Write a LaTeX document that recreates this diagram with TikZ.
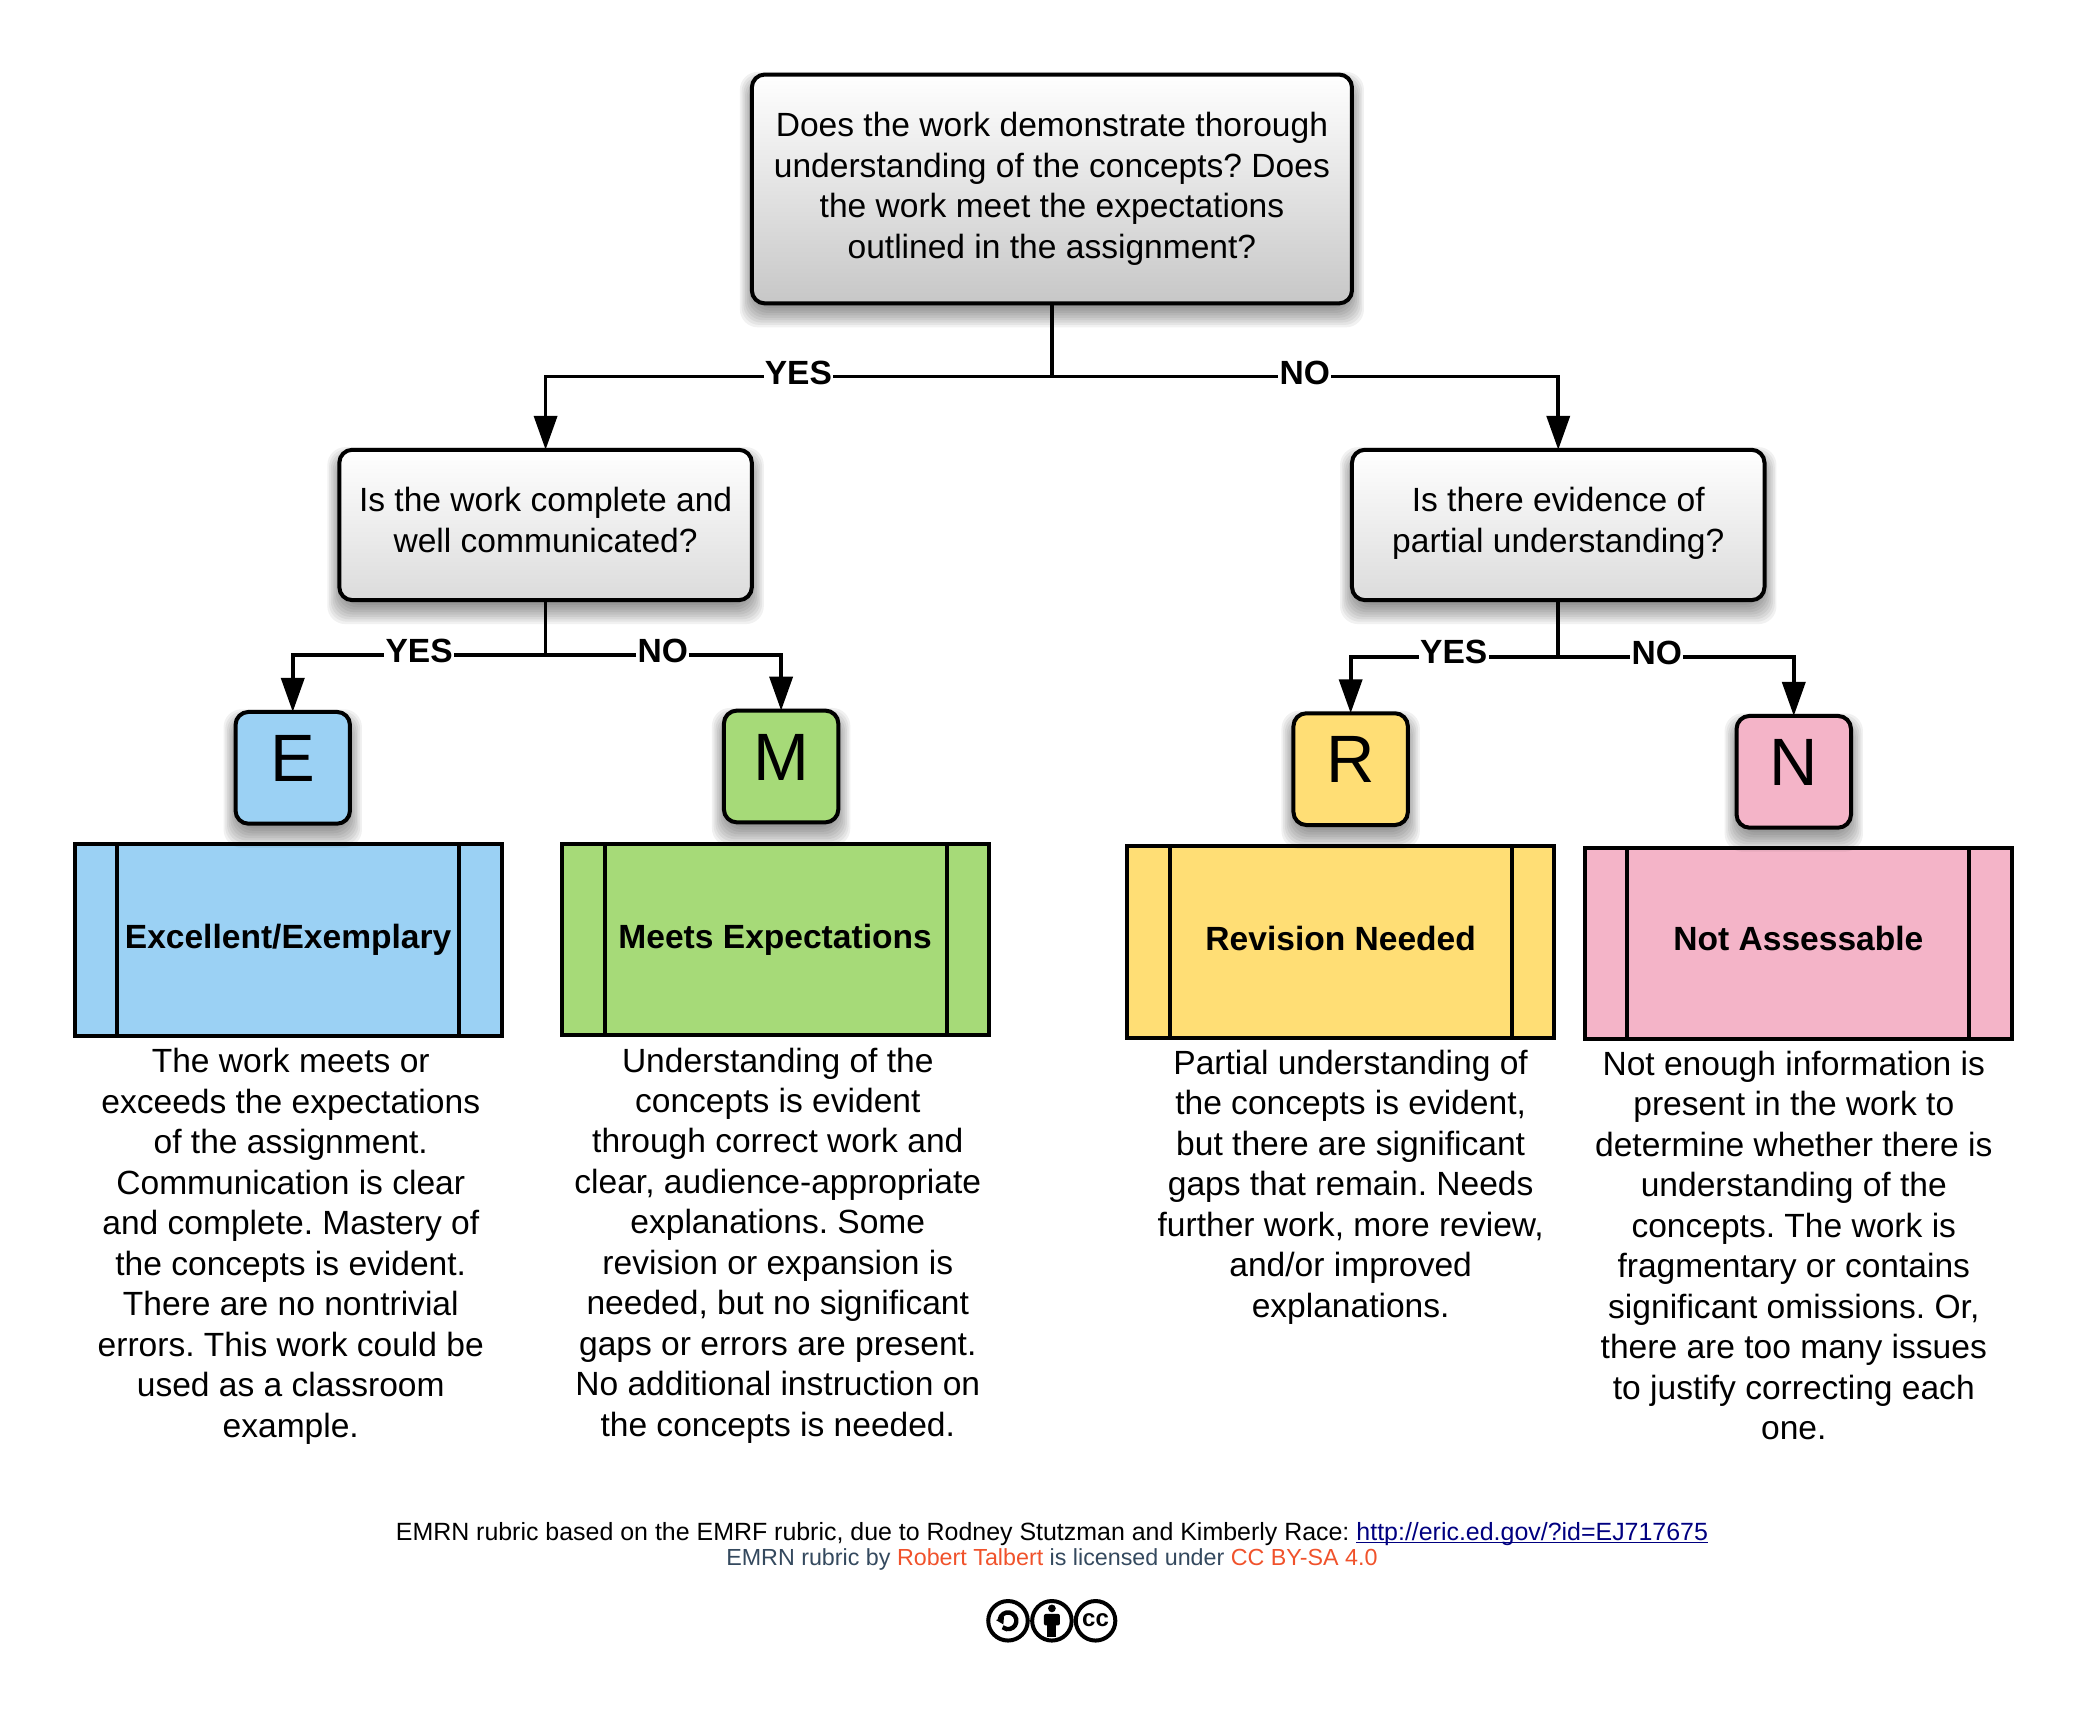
\documentclass[tikz,border=0pt]{standalone}
\usepackage{fontspec}
\setmainfont{Liberation Sans}
\usetikzlibrary{arrows.meta,calc}
\definecolor{cE}{HTML}{9BD1F4}
\definecolor{cM}{HTML}{A6DA78}
\definecolor{cR}{HTML}{FFDE75}
\definecolor{cN}{HTML}{F4B4C8}
\definecolor{slateT}{HTML}{34495E}
\definecolor{orangeT}{HTML}{F0522B}
\definecolor{linkT}{HTML}{000080}
\newcommand{\bodyfont}{\fontsize{16.78pt}{20.23pt}\selectfont\frenchspacing}
\newcommand{\linkul}[1]{\setbox0=\hbox{#1}\rlap{\rule[-1.7pt]{\wd0}{0.85pt}}\box0}
\newcommand{\softshadow}[4]{% x1,y1,x2,y2 -> drawn shadow offset downward
  \foreach \ss in {0,...,9}{
    \fill[black,opacity=0.055,rounded corners=9] ($(#1,#2)+(-9+\ss*1.3,-2+\ss*1.4)$) rectangle ($(#3,#4)+(9-\ss*1.3,18-\ss*1.8)$);
  }}
\tikzset{
  x=0.66535pt,y=-0.66535pt,
  conn/.style={line width=1.9pt,black},
  arrowconn/.style={conn,-{Triangle[length=17pt,width=11.5pt]}},
  question/.style={draw=black,line width=2pt,rounded corners=6.5pt,inner sep=0pt,outer sep=0pt,align=center,font=\bodyfont},
  lettertile/.style={draw=black,line width=2pt,rounded corners=6.5pt,inner sep=0pt,outer sep=0pt,minimum width=86*0.66535pt,minimum height=84*0.66535pt,text depth=9.3pt,font=\fontsize{33.5pt}{38pt}\selectfont},
  process/.style={draw=black,line width=2pt,inner sep=0pt,outer sep=0pt,minimum width=321*0.66535pt,minimum height=144*0.66535pt},
  proclabel/.style={font=\bodyfont\bfseries,inner sep=0pt},
  bodytext/.style={align=center,font=\bodyfont,inner sep=0pt},
  lab/.style={fill=white,inner sep=0.6pt,font=\bodyfont\bfseries},
  foot/.style={inner sep=0pt,font=\fontsize{12.47pt}{15pt}\selectfont\frenchspacing},
  footb/.style={inner sep=0pt,text=slateT,font=\fontsize{11.64pt}{15pt}\selectfont},
  ccring/.style={circle,draw=black,fill=white,line width=2pt,inner sep=0pt,outer sep=0pt,minimum size=29.7*0.66535pt},
}
\begin{document}
\begin{tikzpicture}
\useasboundingbox (0pt,0pt) rectangle (1043.5pt,-859pt);
% process rectangles (under the shadows of the tiles)
\node[process,fill=cE] (pE) at (216.5,706.5) {};
\node[process,fill=cM] (pM) at (582.5,706) {};
\node[process,fill=cR] (pR) at (1007.5,708) {};
\node[process,fill=cN] (pN) at (1351.5,709) {};
\draw[line width=2pt] ($(pE.north west)+(32,0)$) -- ($(pE.south west)+(32,0)$) ($(pE.north east)+(-32,0)$) -- ($(pE.south east)+(-32,0)$);
\draw[line width=2pt] ($(pM.north west)+(33,0)$) -- ($(pM.south west)+(33,0)$) ($(pM.north east)+(-31,0)$) -- ($(pM.south east)+(-31,0)$);
\draw[line width=2pt] ($(pR.north west)+(32,0)$) -- ($(pR.south west)+(32,0)$) ($(pR.north east)+(-32,0)$) -- ($(pR.south east)+(-32,0)$);
\draw[line width=2pt] ($(pN.north west)+(32,0)$) -- ($(pN.south west)+(32,0)$) ($(pN.north east)+(-32,0)$) -- ($(pN.south east)+(-32,0)$);
\node[proclabel] (lE) at (216.5,706) {Excellent/Exemplary};
\node[proclabel] (lM) at (582.5,706) {Meets Expectations};
\node[proclabel] (lR) at (1007.5,705) {Revision Needed};
\node[proclabel] (lN) at (1351.5,705.5) {Not Assessable};
% shadows
\softshadow{565}{56}{1016}{228}
\softshadow{255}{338}{565}{451}
\softshadow{1016}{338}{1326}{451}
\softshadow{177}{535}{263}{619}
\softshadow{544}{534}{630}{618}
\softshadow{972}{536}{1058}{620}
\softshadow{1305}{538}{1391}{622}
% questions
\node[question,top color=white,bottom color=black!22,minimum width=451*0.66535pt,minimum height=172*0.66535pt] (top) at (790.5,142) {Does the work demonstrate thorough\\understanding of the concepts? Does\\the work meet the expectations\\outlined in the assignment?};
\node[question,top color=white,bottom color=black!14,text depth=5pt,minimum width=310*0.66535pt,minimum height=113*0.66535pt] (ql) at (410,394.5) {Is the work complete and\\well communicated?};
\node[question,top color=white,bottom color=black!14,text depth=5pt,minimum width=310*0.66535pt,minimum height=113*0.66535pt] (qr) at (1171,394.5) {Is there evidence of\\partial understanding?};
% tiles
\node[lettertile,fill=cE] (tE) at (220,577) {E};
\node[lettertile,fill=cM] (tM) at (587,576) {M};
\node[lettertile,fill=cR] (tR) at (1015,578) {R};
\node[lettertile,fill=cN] (tN) at (1348,580) {N};
% connectors
\coordinate (j0) at (790.5,283);
\coordinate (j1) at (410,492.5);
\coordinate (j2) at (1171,494);
\draw[conn] (top.south) -- (j0);
\draw[arrowconn] (j0) -| (ql.north);
\draw[arrowconn] (j0) -| (qr.north);
\draw[conn] (ql.south) -- (j1);
\draw[arrowconn] (j1) -| (tE.north);
\draw[arrowconn] (j1) -| (tM.north);
\draw[conn] (qr.south) -- (j2);
\draw[arrowconn] (j2) -| (tR.north);
\draw[arrowconn] (j2) -| (tN.north);
\node[lab] (y0) at (600,280) {YES};
\node[lab] (n0) at (980.5,280) {NO};
\node[lab] (y1) at (315,489) {YES};
\node[lab] (n1) at (498,489) {NO};
\node[lab] (y2) at (1092.5,490) {YES};
\node[lab] (n2) at (1245,491) {NO};
% body texts
\node[bodytext] (tE1) at (218.5,936.6) {The work meets or\\exceeds the expectations\\of the assignment.\\Communication is clear\\and complete. Mastery of\\the concepts is evident.\\There are no nontrivial\\errors. This work could be\\used as a classroom\\example.};
\node[bodytext] (tM1) at (584.5,935.9) {Understanding of the\\concepts is evident\\through correct work and\\clear, audience-appropriate\\explanations. Some\\revision or expansion is\\needed, but no significant\\gaps or errors are present.\\No additional instruction on\\the concepts is needed.};
\node[bodytext] (tR1) at (1015,892) {Partial understanding of\\the concepts is evident,\\but there are significant\\gaps that remain. Needs\\further work, more review,\\and/or improved\\explanations.};
\node[bodytext] (tN1) at (1348,936) {Not enough information is\\present in the work to\\determine whether there is\\understanding of the\\concepts. The work is\\fragmentary or contains\\significant omissions. Or,\\there are too many issues\\to justify correcting each\\one.};
% footer
\node[foot] (f1) at (790.5,1152.5) {EMRN rubric based on the EMRF rubric, due to Rodney Stutzman and Kimberly Race: \textcolor{linkT}{\linkul{http://eric.ed.gov/?id=EJ717675}}};
\node[footb] (f2) at (790.5,1172.2) {EMRN rubric by \textcolor{orangeT}{Robert Talbert} is licensed under \textcolor{orangeT}{CC BY-SA 4.0}};
% licence icons
\node[ccring] (sa) at (757.5,1218) {};
\node[ccring] (by) at (790.5,1218) {};
\node[ccring] (cc) at (823.3,1218) {};
\draw[line width=2.2pt] ($(sa)+(190:6.3)$) arc[start angle=190,end angle=490,radius=6.3];
\fill ($(sa)+(-9,-0.5)$) -- ($(sa)+(-3,-3.2)$) -- ($(sa)+(-3.5,2.7)$) -- cycle;
\fill ($(by)+(0,-9.3)$) circle[radius=2.9];
\fill[rounded corners=1pt] ($(by)+(-6,-5.2)$) rectangle ($(by)+(6,3.5)$);
\fill ($(by)+(-3.4,3)$) rectangle ($(by)+(3.4,12)$);
\node[inner sep=0pt,font=\fontsize{12pt}{12pt}\bfseries\selectfont] (cctext) at ($(cc)+(0,-0.5)$) {cc};
\end{tikzpicture}
\end{document}
